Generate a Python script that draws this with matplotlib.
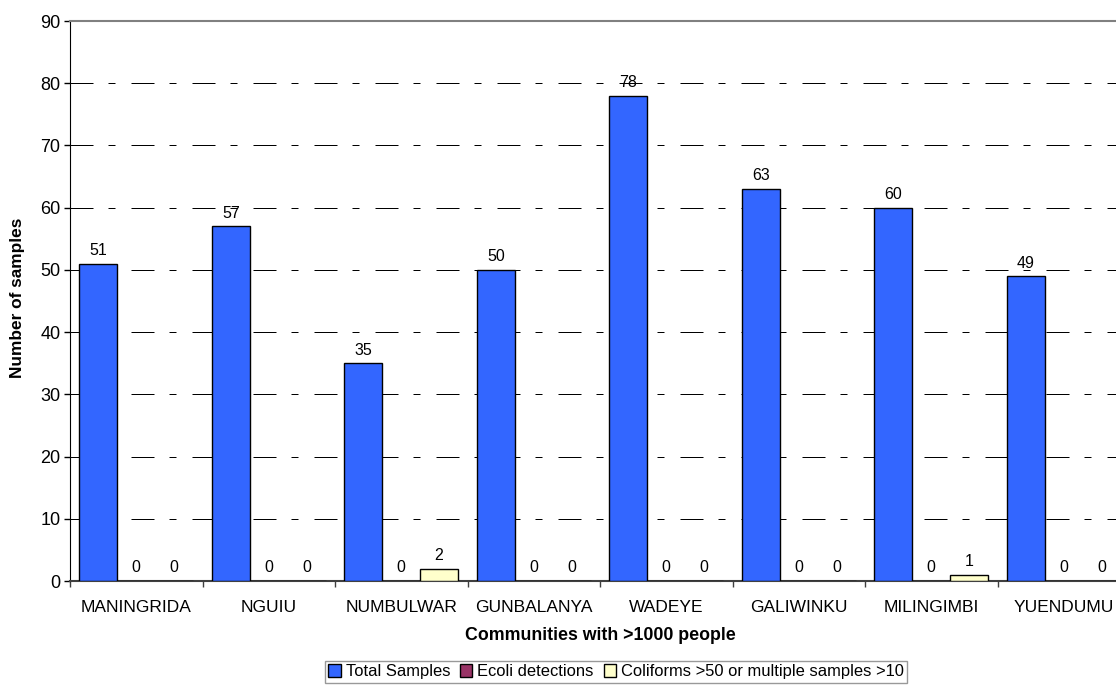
import numpy as np
import matplotlib
matplotlib.use("Agg")
from matplotlib import pyplot as plt

communities = ["MANINGRIDA", "NGUIU", "NUMBULWAR", "GUNBALANYA",
               "WADEYE", "GALIWINKU", "MILINGIMBI", "YUENDUMU"]
total_samples = [51, 57, 35, 50, 78, 63, 60, 49]
ecoli = [0, 0, 0, 0, 0, 0, 0, 0]
coliforms = [0, 0, 2, 0, 0, 0, 1, 0]

series = [
    ("Total Samples", total_samples, "#3366FF"),
    ("Ecoli detections", ecoli, "#993366"),
    ("Coliforms >50 or multiple samples >10", coliforms, "#FFFFCC"),
]

plt.rcParams["font.family"] = ["Liberation Sans", "DejaVu Sans"]
plt.rcParams["font.size"] = 12

fig = plt.figure(figsize=(11.16, 6.85), dpi=100)
ax = fig.add_axes([70 / 1116, 1 - 581 / 685, 1060 / 1116, 560 / 685])

x = np.arange(len(communities))
w = 1 / 3.5

for i, (name, vals, col) in enumerate(series):
    pos = x + (i - 1) * w
    ax.bar(pos, vals, w, color=col, edgecolor="black", linewidth=1.0,
           label=name, zorder=3)
    for p, v in zip(pos, vals):
        ax.annotate(str(v), (p, v), xytext=(0, 4), textcoords="offset points",
                    ha="center", va="bottom", fontsize=11.5, zorder=4)

ax.set_xlim(-0.5, 7.5)
ax.set_ylim(0, 90)
ax.set_yticks(range(0, 91, 10))

# labels at group centres, tick marks at group boundaries
ax.set_xticks(x)
ax.set_xticklabels(communities, fontsize=12.5)
ax.tick_params(axis="x", length=0, pad=14)
ax.set_xticks(np.arange(-0.5, 8, 1), minor=True)
ax.tick_params(axis="x", which="minor", length=4, width=1, color="#404040")
ax.tick_params(axis="y", length=4, width=1, pad=3, labelsize=13)

ax.yaxis.grid(True, color="black", linewidth=0.72,
              linestyle=(0, (23, 15, 7, 16)), zorder=1)
ax.set_axisbelow(True)

ax.spines["top"].set_color("#808080")
ax.spines["top"].set_linewidth(1.5)
ax.spines["right"].set_visible(False)
ax.spines["left"].set_color("black")
ax.spines["bottom"].set_color("#404040")
ax.spines["bottom"].set_linewidth(1.5)

ax.set_xlabel("Communities with >1000 people", fontweight="bold", fontsize=12.8)
ax.set_ylabel("Number of samples", fontweight="bold", fontsize=12.4)
ax.xaxis.label.set_va("center")
ax.yaxis.label.set_va("center")
ax.xaxis.set_label_coords((600 - 70) / 1060, -(636 - 581) / 560)
ax.yaxis.set_label_coords((18 - 70) / 1060, (581 - 298) / 560)

leg = fig.legend(loc="upper center", bbox_to_anchor=(616 / 1116, 1 - 661 / 685),
                 ncol=3, frameon=True, fancybox=False, fontsize=11.9,
                 handlelength=0.75, handleheight=0.75, handletextpad=0.3,
                 columnspacing=0.6, borderpad=0.2, borderaxespad=0)
leg.get_frame().set_edgecolor("#808080")
leg.get_frame().set_linewidth(1.0)

fig.savefig("out.png", dpi=100)
